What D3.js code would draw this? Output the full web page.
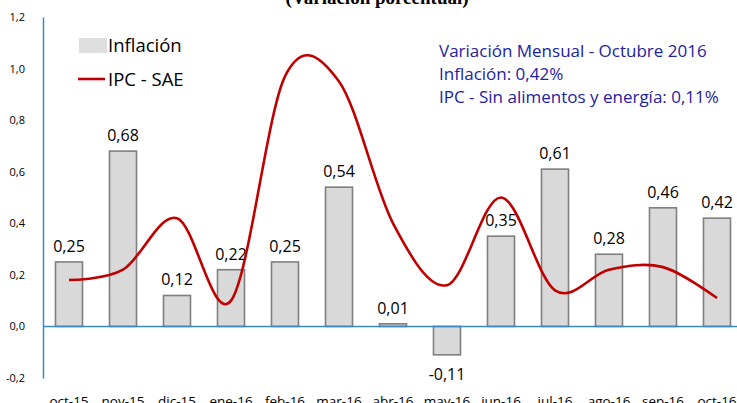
<!DOCTYPE html>
<meta charset="utf-8">
<title>Inflación vs IPC - SAE</title>
<head>
<style>
body {
  margin: 0;
  background-color: #fff;
  font-family: "Open Sans", sans-serif;
}
.axis text {
  font-family: "Open Sans", sans-serif;
  fill: #000;
}
.axis line { display: none; }
.line {
  fill: none;
  stroke: #c00000;
  stroke-width: 2.6px;
}
.bar {
  fill: #d9d9d9;
  stroke: #7f7f7f;
  stroke-width: 1.6px;
}
</style>
</head>
<body>
<svg width="737" height="403"></svg>
</body>
<script src="https://d3js.org/d3.v7.min.js"></script>
<script>
// meses (eje x)
var meses = ["oct-15", "nov-15", "dic-15", "ene-16", "feb-16", "mar-16", "abr-16",
             "may-16", "jun-16", "jul-16", "ago-16", "sep-16", "oct-16"];
// barras: inflacion mensual
var inflacion = [0.25, 0.68, 0.12, 0.22, 0.25, 0.54, 0.01, -0.11, 0.35, 0.61, 0.28, 0.46, 0.42];
// linea: IPC sin alimentos y energia
var ipcSae = [0.18, 0.22, 0.42, 0.10, 0.97, 0.95, 0.40, 0.16, 0.50, 0.14, 0.22, 0.23, 0.11];
var yTicks = [-0.2, 0, 0.2, 0.4, 0.6, 0.8, 1.0, 1.2];
var notas = ["Variación Mensual - Octubre 2016", "Inflación: 0,42%", "IPC - Sin alimentos y energía: 0,11%"];

var es = d3.formatLocale({decimal: ",", thousands: ".", grouping: [3], currency: ["", ""], minus: "-"});
var fmt1 = es.format(".1f"),
    fmt2 = es.format(".2f");

var svg = d3.select("svg");

var x = d3.scaleBand().domain(meses).range([42, 744]).paddingInner(0.5).paddingOuter(0.25),
    y = d3.scaleLinear().domain([-0.2, 1.2]).range([378, 17]);

// titulo (cortado arriba)
svg.append("text")
    .attr("x", 377)
    .attr("y", 4)
    .attr("text-anchor", "middle")
    .style("font", "bold 19px 'Liberation Serif', serif")
    .text("(Variación porcentual)");

// eje y
var yAxis = d3.axisLeft(y).tickValues(yTicks).tickFormat(fmt1).tickSizeOuter(0).tickPadding(12);
var yG = svg.append("g")
    .attr("class", "axis")
    .attr("transform", "translate(43,0)")
    .call(yAxis);
yG.select(".domain").attr("stroke", "#3a87c8").attr("stroke-width", 1.5);
yG.selectAll("text").style("font-size", "11px");

// eje x (etiquetas abajo)
var xAxis = d3.axisBottom(x).tickSizeOuter(0).tickPadding(12);
var xG = svg.append("g")
    .attr("class", "axis")
    .attr("transform", "translate(0,378)")
    .call(xAxis);
xG.select(".domain").remove();
xG.selectAll("text").style("font-size", "13.5px");

// barras
svg.selectAll(".bar")
    .data(inflacion)
    .enter().append("rect")
    .attr("class", "bar")
    .attr("x", function(d, i) { return x(meses[i]); })
    .attr("width", x.bandwidth())
    .attr("y", function(d) { return y(Math.max(0, d)); })
    .attr("height", function(d) { return Math.abs(y(d) - y(0)); });

// linea del cero
svg.append("line")
    .attr("x1", 43).attr("x2", 737)
    .attr("y1", y(0)).attr("y2", y(0))
    .attr("stroke", "#3a87c8")
    .attr("stroke-width", 1.5);

// etiquetas de valores
svg.selectAll(".val")
    .data(inflacion)
    .enter().append("text")
    .attr("class", "val")
    .attr("x", function(d, i) { return x(meses[i]) + x.bandwidth() / 2; })
    .attr("y", function(d) { return d >= 0 ? y(d) - 10 : y(d) + 25; })
    .attr("text-anchor", "middle")
    .style("font-size", "16px")
    .text(function(d) { return fmt2(d); });

// linea suavizada
var line = d3.line()
    .curve(d3.curveCardinal.tension(0))
    .x(function(d, i) { return x(meses[i]) + x.bandwidth() / 2; })
    .y(function(d) { return y(d); });

svg.append("path")
    .datum(ipcSae)
    .attr("class", "line")
    .attr("d", line);

// leyenda
var leg = svg.append("g");
leg.append("rect")
    .attr("x", 79).attr("y", 38).attr("width", 28).attr("height", 15)
    .attr("fill", "#dedede");
leg.append("text")
    .attr("x", 108).attr("y", 52)
    .style("font-size", "18.5px")
    .text("Inflación");
leg.append("line")
    .attr("x1", 78).attr("x2", 105).attr("y1", 79).attr("y2", 79)
    .attr("stroke", "#c00000").attr("stroke-width", 2.6);
leg.append("text")
    .attr("x", 108).attr("y", 86)
    .style("font-size", "18.5px")
    .text("IPC - SAE");

// nota en azul
svg.selectAll(".nota")
    .data(notas)
    .enter().append("text")
    .attr("class", "nota")
    .attr("x", 439)
    .attr("y", function(d, i) { return 57 + i * 23; })
    .attr("fill", "#2222a0")
    .style("font-size", "17px")
    .text(function(d) { return d; });
</script>
</html>
